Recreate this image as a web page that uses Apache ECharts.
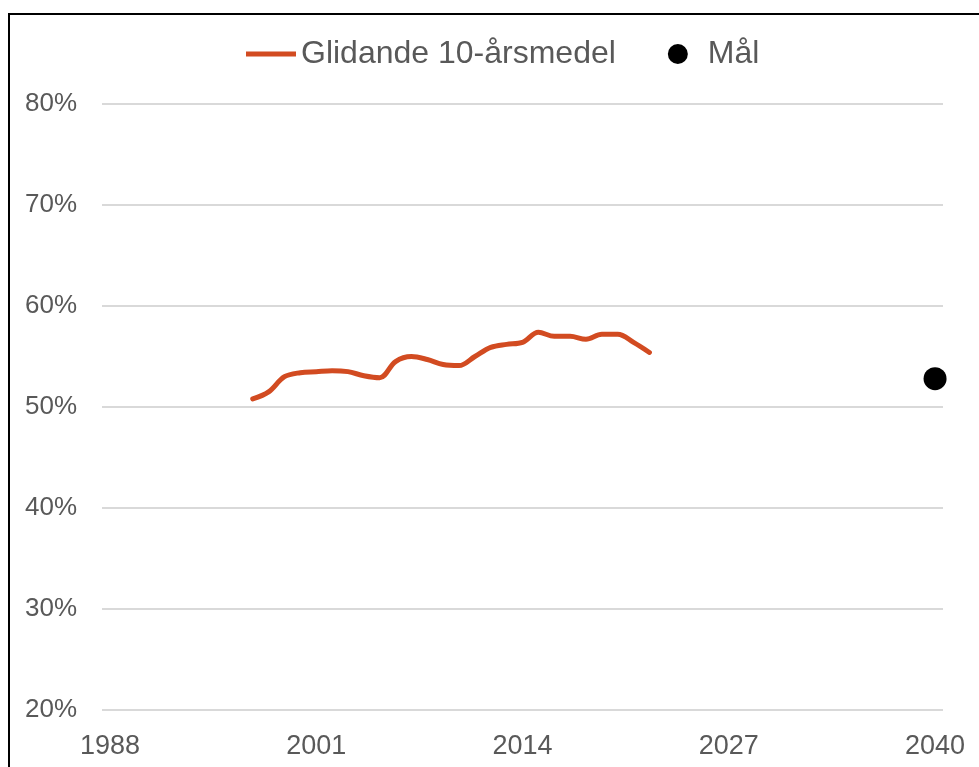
<!DOCTYPE html>
<html>
<head>
<meta charset="utf-8">
<script src="https://cdn.jsdelivr.net/npm/echarts@6/dist/echarts.min.js"></script>
<style>
html,body{margin:0;padding:0;background:#fff;}
#c{width:979px;height:767px;}
</style>
</head>
<body>
<div id="c"></div>
<script>
// Data
const firstYear = 1988;
const lastYear = 2040;
const lineName = 'Glidande 10-årsmedel';
const goalName = 'Mål';
const lineStartYear = 1997;
const lineValues = [50.8, 51.5, 53.0, 53.4, 53.5, 53.6, 53.5, 53.1, 52.9, 54.5,
                    55.0, 54.7, 54.2, 54.1, 55.0, 55.9, 56.2, 56.4, 57.4, 57.0,
                    57.0, 56.7, 57.2, 57.2, 56.4, 55.4];
const goalYear = 2040;
const goalValue = 52.8;
const yTicks = [20, 30, 40, 50, 60, 70, 80];

const categories = [];
for (let y = firstYear; y <= lastYear; y++) categories.push(String(y));
const lineData = categories.map(c => {
  const i = Number(c) - lineStartYear;
  return (i >= 0 && i < lineValues.length) ? lineValues[i] : null;
});
const goalData = categories.map(c => Number(c) === goalYear ? goalValue : null);

const chart = echarts.init(document.getElementById('c'));
const txt = '#595959';
const lineColor = '#D24B21';
const font = 'Liberation Sans, Arial, sans-serif';
chart.setOption({
  animation: false,
  backgroundColor: '#fff',
  graphic: [{
    type: 'rect', silent: true, z: 100,
    shape: { x: 9, y: 14, width: 1200, height: 1000 },
    style: { fill: 'none', stroke: '#000', lineWidth: 2 }
  }],
  grid: { left: 102, right: 36, top: 104, bottom: 57, containLabel: false },
  legend: {
    left: 241, top: 33,
    itemWidth: 50, itemHeight: 20, itemGap: 52,
    symbolKeepAspect: true,
    textStyle: { color: txt, fontSize: 32, fontFamily: font },
    data: [
      { name: lineName, icon: 'path://M0,0 L50,0 L50,5 L0,5 Z',
        itemStyle: { color: lineColor, borderWidth: 0 } },
      { name: goalName, icon: 'circle', itemStyle: { color: '#000', opacity: 1 } }
    ]
  },
  xAxis: {
    type: 'category',
    data: categories,
    boundaryGap: true,
    axisLine: { show: false },
    axisTick: { show: false },
    splitLine: { show: false },
    axisLabel: {
      interval: 12, color: txt, fontSize: 27, margin: 23, fontFamily: font
    }
  },
  yAxis: {
    type: 'value',
    min: yTicks[0], max: yTicks[yTicks.length - 1], interval: 10,
    axisLine: { show: false },
    axisTick: { show: false },
    splitLine: { lineStyle: { color: '#d9d9d9', width: 2 } },
    axisLabel: {
      formatter: '{value}%', color: txt, fontSize: 26, margin: 25, fontFamily: font
    }
  },
  series: [
    {
      name: lineName, type: 'line', data: lineData,
      smooth: 0.35, symbol: 'none', connectNulls: false,
      lineStyle: { color: lineColor, width: 5, cap: 'round' },
      itemStyle: { color: lineColor }
    },
    {
      name: goalName, type: 'scatter', data: goalData,
      symbol: 'circle', symbolSize: 23,
      itemStyle: { color: '#000', opacity: 1 }
    }
  ]
});
</script>
</body>
</html>
